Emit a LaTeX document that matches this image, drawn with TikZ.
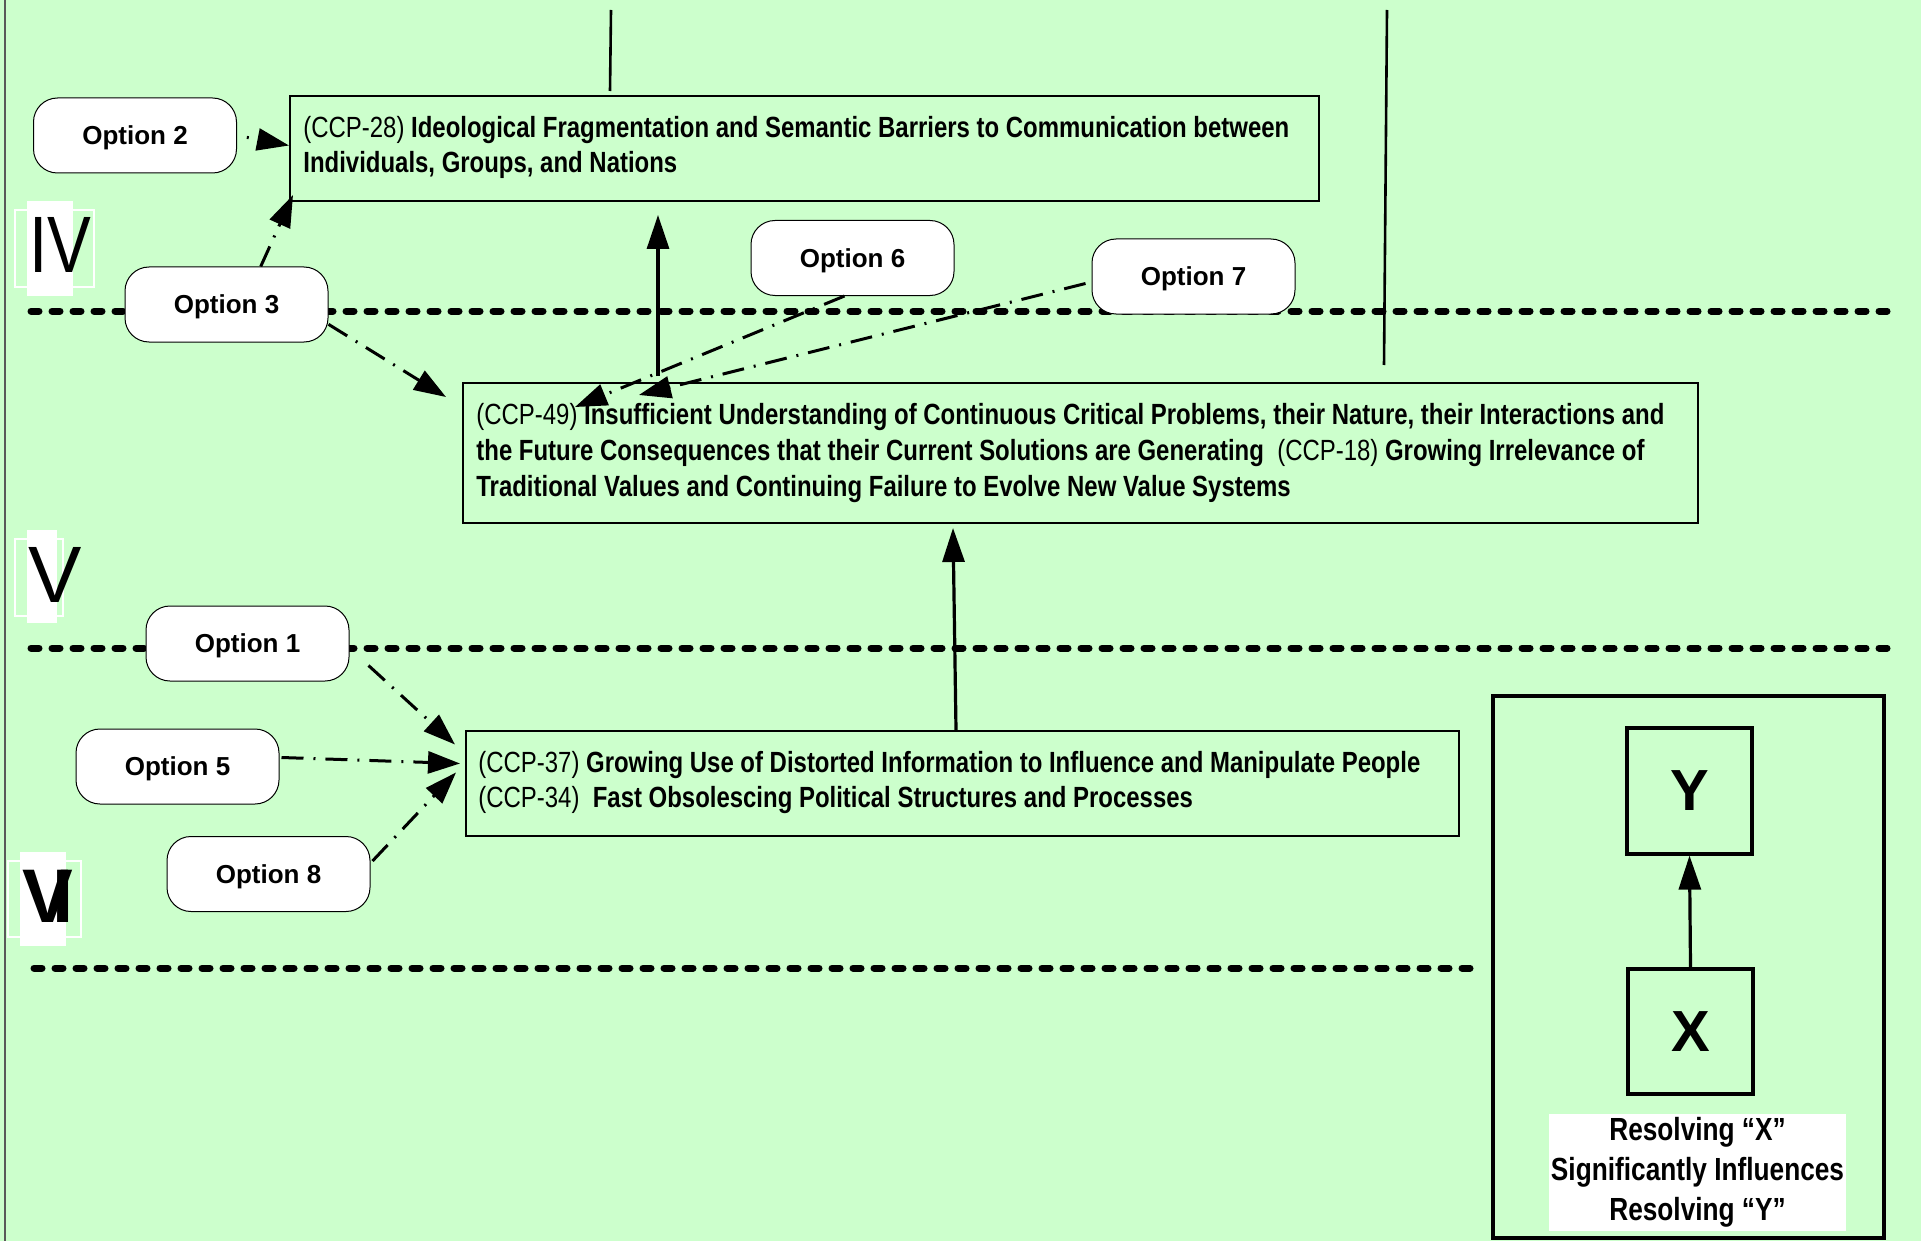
\documentclass[tikz,border=0pt]{standalone}
\usepackage{fontspec}
\setmainfont{Liberation Sans}
\newfontfamily\nar[FakeStretch=0.82]{Liberation Sans}
\usetikzlibrary{arrows.meta,calc}
\definecolor{bg}{HTML}{CCFFCC}
\begin{document}
\begin{tikzpicture}[x=0.5pt,y=-0.5pt,
  optbox/.style={draw, line width=0.5pt, fill=white, rounded corners=12pt,
    minimum width=101.5pt, minimum height=37.5pt, inner sep=0pt, text depth=0pt,
    font=\bfseries\fontsize{13}{15}\selectfont},
  ccpbox/.style={draw, line width=1pt, inner sep=0pt},
  ccptext/.style={anchor=west, align=left, inner sep=0pt,
    font=\nar\fontsize{14.6}{17.8}\selectfont},
  sepline/.style={line width=3.5pt, line cap=round, dash pattern=on 4pt off 6.5pt},
  ddarrow/.style={line width=1.5pt, dash pattern=on 11pt off 5pt on 1pt off 5pt,
    -{Triangle[length=16pt,width=11pt]}},
  solidarrow/.style={line width=1.6pt, -{Triangle[length=17pt,width=11pt]}},
  numfill/.style={fill=white, draw=none},
  numframe/.style={draw=white, line width=0.8pt},
  numtext/.style={inner sep=0pt, anchor=base west}
]
\useasboundingbox (0,0) rectangle (1921,1241);
\fill[bg] (0,0) rectangle (1921,1241);
% left border
\draw[gray!70!black, line width=0.8pt] (5,0) -- (5,1241);

% separator lines
\coordinate (s1a) at (31,311); \coordinate (s1b) at (1895,311);
\coordinate (s2a) at (31,648); \coordinate (s2b) at (1893,648);
\coordinate (s3a) at (34,968); \coordinate (s3b) at (1476,968);
\draw[sepline] (s1a) -- (s1b);
\draw[sepline] (s2a) -- (s2b);
\draw[sepline] (s3a) -- (s3b);

% roman numerals
\fill[numfill] (27,201) rectangle (73,296);
\draw[numframe] (15,210) rectangle (94,287);
\node[numtext, font=\nar\fontsize{40}{44}\selectfont] (n4) at (29,272) {IV};
\fill[numfill] (27,530) rectangle (57,623);
\draw[numframe] (15,539) rectangle (63,616);
\node[numtext, font=\fontsize{40}{44}\selectfont] (n5) at (28,602) {V};
\fill[numfill] (20,852) rectangle (66,946);
\draw[numframe] (8,861) rectangle (81,937);
\node[numtext, font=\bfseries\fontsize{38}{42}\selectfont] (n6) at (22,922) {V\kern-0.27em I};

% main boxes
\node[ccpbox, minimum width=514.5pt, minimum height=52.5pt] (ccp28) at (804.5,148.5) {};
\node[ccptext] (t28) at ($(ccp28.west)+(14,-1)$)
  {(CCP-28) \textbf{Ideological Fragmentation and Semantic Barriers to Communication between}\\
   \textbf{Individuals, Groups, and Nations}};
\node[ccpbox, minimum width=617.5pt, minimum height=70pt] (ccp49) at (1080.5,453) {};
\node[ccptext] (t49) at ($(ccp49.west)+(14,0)$)
  {(CCP-49) \textbf{Insufficient Understanding of Continuous Critical Problems, their Nature, their Interactions and}\\
   \textbf{the Future Consequences that their Current Solutions are Generating}\ \ (CCP-18) \textbf{Growing Irrelevance of}\\
   \textbf{Traditional Values and Continuing Failure to Evolve New Value Systems}};
\node[ccpbox, minimum width=496.5pt, minimum height=52.5pt] (ccp37) at (962.5,783.5) {};
\node[ccptext] (t37) at ($(ccp37.west)+(13,-1)$)
  {(CCP-37) \textbf{Growing Use of Distorted Information to Influence and Manipulate People}\\
   (CCP-34)\ \ \textbf{Fast Obsolescing Political Structures and Processes}};

% top vertical lines
\coordinate (v1) at (611,10);
\draw[line width=1.3pt] (v1) -- ($(ccp28.north west)+(321,-4)$);
\coordinate (v2a) at (1387,10); \coordinate (v2b) at (1384,365);
\draw[line width=1.3pt] (v2a) -- (v2b);

% options
\node[optbox] (opt2) at (135,135.5) {Option 2};
\node[optbox] (opt3) at (226.5,304.5) {Option 3};
\node[optbox] (opt6) at (852.5,258) {Option 6};
\node[optbox] (opt7) at (1193.5,276.5) {Option 7};
\node[optbox] (opt1) at (247.5,643.5) {Option 1};
\node[optbox] (opt5) at (177.5,766.5) {Option 5};
\node[optbox] (opt8) at (268.5,874) {Option 8};

% solid arrows
\draw[solidarrow] ($(ccp49.north west)+(196,-6)$) -- ($(ccp28.south west)+(369,13)$);
\draw[solidarrow] ($(ccp37.north west)+(491,0)$) -- ($(ccp49.south west)+(491,4)$);

% dash-dot arrows
\draw[ddarrow, dash phase=11pt] (opt2.east) -- ($(ccp28.west)+(0,-3)$);
\draw[ddarrow] (opt3.48) -- ($(ccp28.south west)+(4,-7)$);
\draw[ddarrow] (opt3.-11) -- ($(ccp49.north west)+(-16,15)$);
\draw[ddarrow] ($(opt6.south)+(-8,0)$) -- ($(ccp49.north west)+(113,25)$);
\draw[ddarrow] ($(opt7.west)+(-6,7)$) -- ($(ccp49.north west)+(177,13)$);
\draw[ddarrow] ($(opt1.south east)+(19,-16)$) -- ($(ccp37.west)+(-10,-39)$);
\draw[ddarrow] ($(opt5.east)+(2,-9)$) -- ($(ccp37.west)+(-5,-20)$);
\draw[ddarrow] ($(opt8.east)+(2,-13)$) -- ($(ccp37.west)+(-9,-11)$);

% legend
\node[draw, line width=1.8pt, minimum width=195.5pt, minimum height=271pt, inner sep=0pt] (legend) at (1688.5,967) {};
\node[draw, line width=1.6pt, minimum width=62.5pt, minimum height=63pt, inner sep=0pt,
  font=\bfseries\fontsize{29}{30}\selectfont] (ybox) at (1689.5,791) {Y};
\node[draw, line width=1.6pt, minimum width=62.5pt, minimum height=62.5pt, inner sep=0pt,
  font=\bfseries\fontsize{29}{30}\selectfont] (xbox) at (1690.5,1031.5) {X};
\draw[solidarrow] (xbox.north) -- (ybox.south);
\node[fill=white, minimum width=148.5pt, minimum height=58.5pt, inner sep=0pt, align=center,
  font=\nar\bfseries\fontsize{16}{20}\selectfont] (legtext) at (1697.5,1172)
  {Resolving “X”\\Significantly Influences\\Resolving “Y”};
\end{tikzpicture}
\end{document}
